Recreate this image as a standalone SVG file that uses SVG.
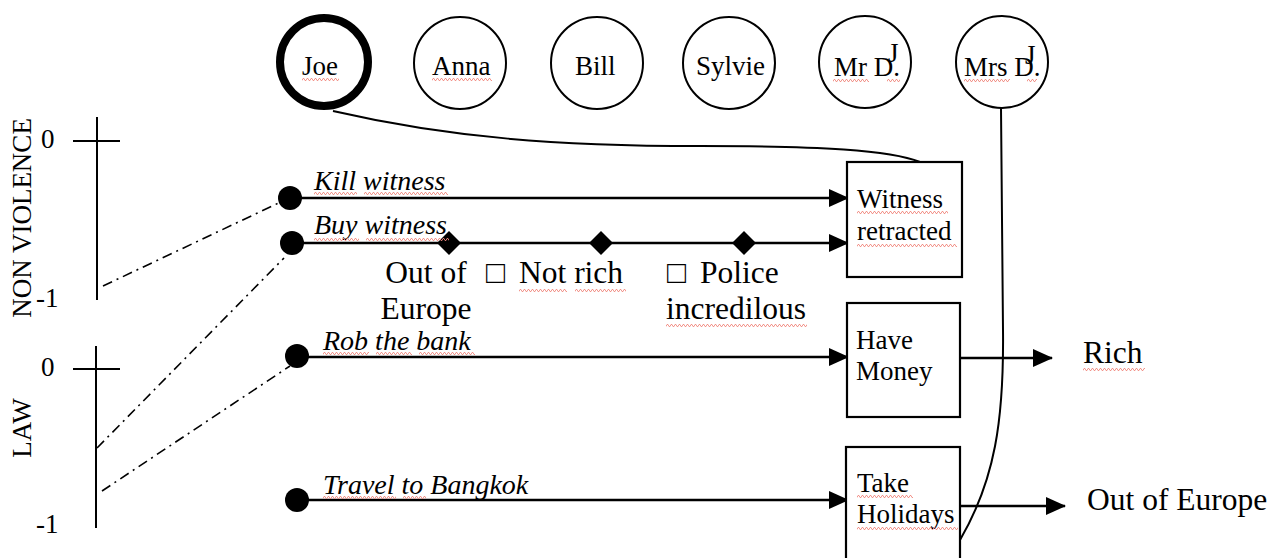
<svg xmlns="http://www.w3.org/2000/svg" width="1276" height="558" viewBox="0 0 1276 558">
<style>
.person{fill:#fff;stroke:#000;stroke-width:2}
.box{fill:#fff;stroke:#000;stroke-width:2.2}
.arr{stroke:#000;stroke-width:2.5;fill:none;marker-end:url(#ah)}
.dd{stroke:#000;stroke-width:1.6;fill:none;stroke-dasharray:10,5,2,5}
.axis{stroke:#000;stroke-width:2;fill:none}
.curve{stroke:#000;stroke-width:2;fill:none}
.sq{fill:url(#sq)}
</style>
<defs>
<marker id="ah" markerUnits="userSpaceOnUse" markerWidth="20" markerHeight="18" refX="19" refY="9" orient="auto">
<path d="M0,0 L20,9 L0,18 Z" fill="#000"/>
</marker>
<pattern id="sq" width="4" height="3" patternUnits="userSpaceOnUse">
<path d="M0,2.5 L1,0.5 L2,0.5 L3,2.5 L4,2.5" stroke="#f08a80" stroke-width="0.9" fill="none"/>
</pattern>
</defs>
<rect width="1276" height="558" fill="#fff"/>

<g id="axis-nonviolence">
<line class="axis" x1="97" y1="117" x2="97" y2="300"/>
<line class="axis" x1="73" y1="141" x2="120" y2="141"/>
<text style="font-family:'Liberation Serif',serif;font-size:27px" x="41" y="148">0</text>
<text style="font-family:'Liberation Serif',serif;font-size:27px" x="36" y="307">-1</text>
<text style="font-family:'Liberation Serif',serif;font-size:27px" x="31" y="218" text-anchor="middle" transform="rotate(-90 31 218)">NON VIOLENCE</text>
</g>
<g id="axis-law">
<line class="axis" x1="96" y1="346" x2="96" y2="528"/>
<line class="axis" x1="73" y1="369" x2="120" y2="369"/>
<text style="font-family:'Liberation Serif',serif;font-size:27px" x="41" y="376">0</text>
<text style="font-family:'Liberation Serif',serif;font-size:27px" x="36" y="533">-1</text>
<text style="font-family:'Liberation Serif',serif;font-size:27px" x="31" y="428" text-anchor="middle" transform="rotate(-90 31 428)">LAW</text>
</g>

<g id="connectors">
<path class="curve" d="M333,111 C450,138 560,146 700,146 C820,146 890,150 920,162"/>
<path class="curve" d="M1001,108 C1002,200 1003,280 1003,330 C1004,420 995,480 960,540"/>
<line class="dd" x1="103" y1="286" x2="285" y2="200"/>
<line class="dd" x1="97" y1="448" x2="284" y2="258"/>
<line class="dd" x1="102" y1="491" x2="290" y2="366"/>
<line class="arr" x1="290" y1="198" x2="848" y2="198"/>
<line class="arr" x1="292" y1="243" x2="848" y2="243"/>
<line class="arr" x1="297" y1="357" x2="848" y2="357"/>
<line class="arr" x1="297" y1="500" x2="848" y2="500"/>
<line class="arr" x1="960" y1="358" x2="1052" y2="358"/>
<line class="arr" x1="960" y1="506" x2="1065" y2="506"/>
</g>

<g id="person-joe"><circle cx="324" cy="62" r="44" fill="#fff" stroke="#000" stroke-width="8"/><text style="font-family:'Liberation Serif',serif;font-size:27px" x="302" y="75">Joe</text></g>
<g id="person-anna"><circle class="person" cx="460" cy="63" r="46"/><text style="font-family:'Liberation Serif',serif;font-size:27px" x="432" y="75">Anna</text></g>
<g id="person-bill"><circle class="person" cx="597" cy="63" r="46"/><text style="font-family:'Liberation Serif',serif;font-size:27px" x="575" y="75">Bill</text></g>
<g id="person-sylvie"><circle class="person" cx="729" cy="63" r="46"/><text style="font-family:'Liberation Serif',serif;font-size:27px" x="696" y="75">Sylvie</text></g>
<g id="person-mrd"><circle class="person" cx="865" cy="62" r="46"/><text style="font-family:'Liberation Serif',serif;font-size:27px" x="834" y="76">Mr D.</text><text style="font-family:'Liberation Serif',serif;font-size:27px" x="888" y="62">J</text></g>
<g id="person-mrsd"><circle class="person" cx="1002" cy="62" r="46"/><text style="font-family:'Liberation Serif',serif;font-size:27px" x="964" y="76">Mrs D.</text><text style="font-family:'Liberation Serif',serif;font-size:27px" x="1025" y="64">J</text></g>

<g id="action-kill"><circle cx="290" cy="198" r="12"/><text style="font-family:'Liberation Serif',serif;font-size:28px;font-style:italic" x="314" y="190">Kill witness</text></g>
<g id="action-buy"><circle cx="292" cy="243" r="12"/><text style="font-family:'Liberation Serif',serif;font-size:28px;font-style:italic" x="314" y="234">Buy witness</text>
<path d="M449,231 L461,243 L449,255 L437,243 Z"/>
<path d="M601,231 L613,243 L601,255 L589,243 Z"/>
<path d="M744,231 L756,243 L744,255 L732,243 Z"/>
</g>
<g id="cond-out"><text style="font-family:'Liberation Serif',serif;font-size:31.5px" x="426" y="283" text-anchor="middle">Out of</text><text style="font-family:'Liberation Serif',serif;font-size:31.5px" x="426" y="319" text-anchor="middle">Europe</text></g>
<g id="cond-notrich"><text style="font-family:'Liberation Serif','DejaVu Sans',serif;font-size:31.5px" x="486" y="283">□ <tspan x="519">Not rich</tspan></text></g>
<g id="cond-police"><text style="font-family:'Liberation Serif','DejaVu Sans',serif;font-size:31.5px" x="667" y="283">□ <tspan x="700">Police</tspan></text><text style="font-family:'Liberation Serif',serif;font-size:31.5px" x="666" y="319">incredilous</text></g>
<g id="action-rob"><circle cx="297" cy="356" r="12"/><text style="font-family:'Liberation Serif',serif;font-size:28px;font-style:italic" x="323" y="350">Rob the bank</text></g>
<g id="action-travel"><circle cx="297" cy="500" r="12"/><text style="font-family:'Liberation Serif',serif;font-size:28px;font-style:italic" x="323" y="494">Travel to Bangkok</text></g>

<g id="box-witness"><rect class="box" x="847" y="162" width="115" height="115"/><text style="font-family:'Liberation Serif',serif;font-size:27px" x="857" y="208">Witness</text><text style="font-family:'Liberation Serif',serif;font-size:27px" x="857" y="240">retracted</text></g>
<g id="box-money"><rect class="box" x="847" y="303" width="113" height="114"/><text style="font-family:'Liberation Serif',serif;font-size:27px" x="856" y="349">Have</text><text style="font-family:'Liberation Serif',serif;font-size:27px" x="856" y="380">Money</text></g>
<g id="box-holidays"><rect class="box" x="846" y="447" width="114" height="120"/><text style="font-family:'Liberation Serif',serif;font-size:27px" x="857" y="492">Take</text><text style="font-family:'Liberation Serif',serif;font-size:27px" x="857" y="523">Holidays</text></g>

<g id="result-rich"><text style="font-family:'Liberation Serif',serif;font-size:31.5px" x="1083" y="363">Rich</text></g>
<g id="result-out"><text style="font-family:'Liberation Serif',serif;font-size:31.5px" x="1087" y="510">Out of Europe</text></g>

<g id="spell-marks">
<rect class="sq" transform="translate(302,78)" width="37" height="3"/>
<rect class="sq" transform="translate(432,78)" width="60" height="3"/>
<rect class="sq" transform="translate(833,79)" width="36" height="3"/>
<rect class="sq" transform="translate(887,79)" width="13" height="3"/>
<rect class="sq" transform="translate(964,79)" width="46" height="3"/>
<rect class="sq" transform="translate(1027,79)" width="10" height="3"/>
<rect class="sq" transform="translate(314,192)" width="43" height="3"/>
<rect class="sq" transform="translate(364,192)" width="84" height="3"/>
<rect class="sq" transform="translate(314,238)" width="45" height="3"/>
<rect class="sq" transform="translate(366,238)" width="83" height="3"/>
<rect class="sq" transform="translate(519,289)" width="48" height="3"/>
<rect class="sq" transform="translate(575,289)" width="51" height="3"/>
<rect class="sq" transform="translate(666,324)" width="141" height="3"/>
<rect class="sq" transform="translate(323,352)" width="46" height="3"/>
<rect class="sq" transform="translate(376,352)" width="36" height="3"/>
<rect class="sq" transform="translate(419,352)" width="56" height="3"/>
<rect class="sq" transform="translate(323,496)" width="73" height="3"/>
<rect class="sq" transform="translate(403,496)" width="23" height="3"/>
<rect class="sq" transform="translate(857,211)" width="91" height="3"/>
<rect class="sq" transform="translate(857,244)" width="100" height="3"/>
<rect class="sq" transform="translate(857,495)" width="56" height="3"/>
<rect class="sq" transform="translate(857,527)" width="101" height="3"/>
<rect class="sq" transform="translate(1083,368)" width="62" height="3"/>
</g>
</svg>
